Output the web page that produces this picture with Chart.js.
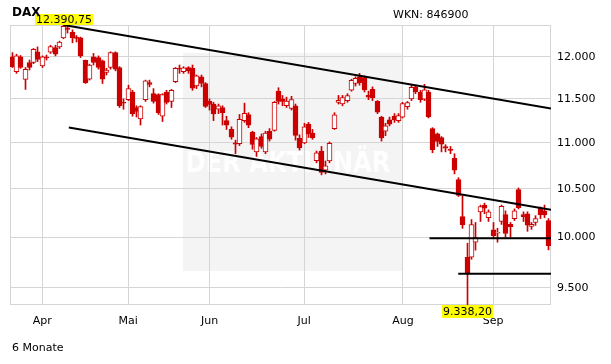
<!DOCTYPE html>
<html>
<head>
<meta charset="utf-8">
<script src="https://cdn.jsdelivr.net/npm/chart.js@4.4.1/dist/chart.umd.min.js"></script>
<style>
    html, body { margin: 0; padding: 0; background: #fff; }
    #wrap { position: relative; width: 611px; height: 364px; font-family: "DejaVu Sans", Verdana, sans-serif; }
    #wrap canvas { position: absolute; left: 0; top: 0; }
    .txt { position: absolute; color: #000; white-space: nowrap; }
</style>
</head>
<body>
<div id="wrap">
    <canvas id="chart" width="611" height="364"></canvas>
    <div class="txt" style="left:12px; top:5px; font-size:12px; font-weight:bold; line-height:14px;">DAX</div>
    <div class="txt" style="left:393px; top:8px; font-size:11px; line-height:13px;">WKN: 846900</div>
    <div class="txt" style="left:12px; top:341px; font-size:11px; line-height:13px;">6 Monate</div>
</div>
<script>
// trading days, 23.03. - 18.09.2015 (MM-DD)
const dates = [
    '03-23','03-24','03-25','03-26','03-27','03-30','03-31',
    '04-01','04-02','04-07','04-08','04-09','04-10','04-13','04-14','04-15','04-16','04-17','04-20','04-21','04-22','04-23','04-24','04-27','04-28','04-29','04-30',
    '05-04','05-05','05-06','05-07','05-08','05-11','05-12','05-13','05-14','05-15','05-18','05-19','05-20','05-21','05-22','05-26','05-27','05-28','05-29',
    '06-01','06-02','06-03','06-04','06-05','06-08','06-09','06-10','06-11','06-12','06-15','06-16','06-17','06-18','06-19','06-22','06-23','06-24','06-25','06-26','06-29','06-30',
    '07-01','07-02','07-03','07-06','07-07','07-08','07-09','07-10','07-13','07-14','07-15','07-16','07-17','07-20','07-21','07-22','07-23','07-24','07-27','07-28','07-29','07-30','07-31',
    '08-03','08-04','08-05','08-06','08-07','08-10','08-11','08-12','08-13','08-14','08-17','08-18','08-19','08-20','08-21','08-24','08-25','08-26','08-27','08-28','08-31',
    '09-01','09-02','09-03','09-04','09-07','09-08','09-09','09-10','09-11','09-14','09-15','09-16','09-17','09-18'
];

const open = [
    12000, 11820, 12000, 11728, 11930, 11930, 12060,
    11890, 11995, 12055, 12110, 12120, 12230, 12355, 12300, 12240, 12230, 11955, 11730, 12000, 11990, 11950, 11810, 11870, 12050, 11870, 11455,
    11490, 11580, 11400, 11270, 11490, 11690, 11560, 11550, 11300, 11580, 11470, 11700, 11860, 11820, 11870, 11860, 11650, 11760, 11680,
    11470, 11440, 11380, 11400, 11250, 11150, 11000, 10990, 11250, 11320, 11120, 10900, 11070, 10900, 11130, 11140, 11590, 11500, 11420, 11390, 11420, 11050,
    11000, 11210, 11110, 10805, 10910, 10700, 10800, 11160, 11460, 11440, 11480, 11600, 11680, 11760, 11750, 11540, 11610, 11470, 11290, 11130, 11260, 11300, 11250,
    11290, 11410, 11500, 11640, 11580, 11495, 11580, 11160, 11100, 11060, 10960, 10930, 10830, 10600, 10210, 9800, 9800, 9950, 10260, 10330, 10200,
    10075, 10040, 10160, 10230, 10130, 10190, 10492, 10230, 10240, 10110, 10150, 10298, 10270, 10170
];
const high = [
    12050, 12030, 12015, 11870, 11960, 12100, 12120,
    12010, 12020, 12140, 12140, 12190, 12390.75, 12385, 12330, 12260, 12240, 11960, 11910, 12040, 12010, 11960, 11860, 12060, 12060, 11880, 11500,
    11660, 11600, 11420, 11420, 11720, 11720, 11620, 11560, 11560, 11600, 11610, 11870, 11900, 11880, 11880, 11900, 11780, 11780, 11690,
    11500, 11460, 11440, 11420, 11300, 11180, 11030, 11320, 11450, 11340, 11130, 11060, 11100, 11130, 11160, 11470, 11630, 11540, 11520, 11530, 11440, 11090,
    11220, 11230, 11150, 10910, 10960, 10800, 11010, 11340, 11540, 11540, 11560, 11730, 11760, 11800, 11770, 11590, 11640, 11480, 11300, 11220, 11290, 11330, 11330,
    11460, 11470, 11670, 11660, 11600, 11670, 11600, 11170, 11110, 11070, 10980, 10960, 10880, 10620, 10430, 9940, 10180, 10150, 10330, 10350, 10280,
    10150, 10090, 10330, 10270, 10150, 10290, 10510, 10260, 10260, 10150, 10220, 10310, 10330, 10190
];
const low = [
    11870, 11800, 11860, 11610, 11840, 11915, 11940,
    11870, 11960, 12040, 12010, 12100, 12220, 12290, 12170, 12180, 11990, 11680, 11720, 11900, 11850, 11680, 11780, 11850, 11830, 11400, 11380,
    11480, 11300, 11290, 11200, 11470, 11640, 11450, 11320, 11240, 11440, 11400, 11690, 11800, 11800, 11800, 11600, 11620, 11640, 11400,
    11370, 11250, 11330, 11200, 11150, 11040, 10880, 10970, 11230, 11170, 10930, 10850, 10940, 10880, 11020, 11130, 11440, 11420, 11400, 11370, 11030, 10920,
    10990, 11060, 11040, 10780, 10650, 10660, 10780, 11150, 11440, 11420, 11460, 11590, 11650, 11660, 11580, 11490, 11480, 11330, 11020, 11080, 11190, 11230, 11230,
    11280, 11380, 11480, 11560, 11460, 11480, 11280, 10890, 10960, 10900, 10900, 10880, 10660, 10420, 10090, 9338.2, 9780, 9870, 10160, 10240, 10160,
    9990, 9950, 10130, 10000, 10000, 10170, 10290, 10160, 10060, 10080, 10120, 10190, 10200, 9873
];
const close = [
    11880, 12010, 11870, 11847, 11870, 12089, 11968,
    12000, 11985, 12125, 12030, 12180, 12375, 12335, 12230, 12225, 12010, 11690, 11900, 11930, 11870, 11730, 11840, 12050, 11850, 11420, 11450,
    11620, 11330, 11355, 11410, 11710, 11670, 11470, 11340, 11550, 11460, 11600, 11860, 11850, 11865, 11830, 11625, 11770, 11680, 11413,
    11436, 11327, 11419, 11340, 11197, 11064, 10985, 11265, 11332, 11197, 10984, 11044, 10960, 11110, 11040, 11460, 11471, 11471, 11473, 11492, 11083, 10945,
    11180, 11099, 11058, 10890, 10676, 10747, 10996, 11315, 11484, 11516, 11539, 11716, 11740, 11690, 11604, 11520, 11512, 11347, 11056, 11190, 11211, 11257, 11308,
    11444, 11456, 11636, 11585, 11490, 11604, 11293, 10924, 11015, 10985, 10940, 10915, 10700, 10432, 10124, 9648, 10128, 9997, 10315, 10298, 10259,
    10016, 10048, 10318, 10038, 10108, 10271, 10303, 10210, 10123, 10131, 10189, 10228, 10229, 9916
];

// drawn lines (x = trading day index)
const upperTrend = [{ x: 12, y: 12390.75 }, { x: 125.5, y: 11389 }];
const lowerTrend = [{ x: 13.2, y: 11171 }, { x: 125.5, y: 10281 }];
const support1 = [{ x: 97.2, y: 9990 }, { x: 125.5, y: 9990 }];
const support2 = [{ x: 103.9, y: 9638 }, { x: 125.5, y: 9638 }];

const yTicks = [9500, 10000, 10500, 11000, 11500, 12000];
const monthNames = { '03': 'Mär', '04': 'Apr', '05': 'Mai', '06': 'Jun', '07': 'Jul', '08': 'Aug', '09': 'Sep' };

const RED = '#cc0000';
const GRID = '#d5d5d5';
const FONT = '"DejaVu Sans", Verdana, sans-serif';

function deNum(v, dec) {
    const parts = v.toFixed(dec).split('.');
    const int = parts[0].replace(/\B(?=(\d{3})+(?!\d))/g, '.');
    return parts[1] ? int + ',' + parts[1] : int;
}

const monthStarts = [];
dates.forEach((d, i) => {
    if (i > 0 && d.slice(0, 2) !== dates[i - 1].slice(0, 2)) monthStarts.push(i);
});

const bodies = dates.map((d, i) => ({ x: i, y: [open[i], close[i]] }));
const wicks = dates.map((d, i) => ({ x: i, y: [low[i], high[i]] }));
const bodyFill = dates.map((d, i) => close[i] >= open[i] ? '#ffffff' : RED);

const yMin = Math.min(...low);
const yMax = Math.max(...high);

const decor = {
    id: 'decor',
    // snap candle centres to the pixel grid so bodies and wicks stay crisp
    afterDatasetsUpdate(chart) {
        chart.getSortedVisibleDatasetMetas().forEach(meta => {
            if (meta.type !== 'bar') return;
            meta.data.forEach(el => { el.x = Math.floor(el.x) + 0.5; });
        });
    },
    beforeDraw(chart) {
        const ctx = chart.ctx;
        ctx.save();
        ctx.fillStyle = '#f4f4f4';
        ctx.fillRect(183, 53, 220, 218);
        ctx.fillStyle = 'rgba(255,255,255,0.85)';
        ctx.font = 'bold 29px ' + FONT;
        ctx.textAlign = 'center';
        ctx.textBaseline = 'alphabetic';
        ctx.fillText('DER AKTIONÄR', 288, 172, 205);
        ctx.restore();
    },
    beforeDatasetsDraw(chart) {
        const { ctx, chartArea: a } = chart;
        ctx.save();
        ctx.strokeStyle = GRID;
        ctx.lineWidth = 1;
        ctx.strokeRect(a.left + 0.5, a.top + 0.5, a.width - 1, a.height - 1);
        ctx.restore();
    },
    afterDatasetsDraw(chart) {
        const ctx = chart.ctx;
        const xs = chart.scales.x, ys = chart.scales.y;
        const iMax = high.indexOf(yMax);
        const iMin = low.indexOf(yMin);
        const tag = (text, cx, yEdge, above) => {
            ctx.font = '11px ' + FONT;
            const w = Math.round(ctx.measureText(text).width) + 2;
            const h = above ? 11 : 13;
            const x0 = Math.round(cx - w / 2);
            const y0 = above ? Math.round(yEdge) - h : Math.round(yEdge);
            ctx.fillStyle = '#ffff00';
            ctx.fillRect(x0, y0, w, h);
            ctx.fillStyle = '#000';
            ctx.textAlign = 'center';
            ctx.textBaseline = 'middle';
            ctx.fillText(text, x0 + w / 2, y0 + h / 2 + 1);
        };
        ctx.save();
        tag(deNum(yMax, 2), xs.getPixelForValue(iMax), ys.getPixelForValue(yMax), true);
        tag(deNum(yMin, 2), xs.getPixelForValue(iMin), ys.getPixelForValue(yMin), false);
        ctx.restore();
    }
};

const lineDs = (data) => ({
    type: 'line',
    data: data,
    borderColor: '#000',
    borderWidth: 2,
    pointRadius: 0,
    fill: false,
    tension: 0
});

new Chart(document.getElementById('chart'), {
    type: 'bar',
    data: {
        datasets: [
            lineDs(upperTrend),
            lineDs(lowerTrend),
            lineDs(support1),
            lineDs(support2),
            {
                label: 'body',
                data: bodies,
                backgroundColor: bodyFill,
                borderColor: RED,
                borderWidth: 1,
                borderSkipped: false,
                barThickness: 5,
                minBarLength: 1,
                grouped: false
            },
            {
                label: 'wick',
                data: wicks,
                backgroundColor: RED,
                borderWidth: 0,
                barThickness: 1,
                grouped: false
            }
        ]
    },
    options: {
        responsive: false,
        animation: false,
        events: [],
        layout: { padding: { left: 10, top: 25, right: 0, bottom: 0 } },
        plugins: {
            legend: { display: false },
            tooltip: { enabled: false }
        },
        scales: {
            x: {
                type: 'linear',
                offset: false,
                min: -0.5,
                max: dates.length - 0.5,
                bounds: 'data',
                afterBuildTicks: (s) => { s.ticks = monthStarts.map(i => ({ value: i })); },
                afterFit: (s) => { s.height = 59; },
                grid: { color: GRID, drawTicks: false, offset: false },
                border: { display: false },
                ticks: {
                    autoSkip: false,
                    maxRotation: 0,
                    padding: 10,
                    color: '#000',
                    font: { family: FONT, size: 11 },
                    callback: (v) => monthNames[dates[v].slice(0, 2)]
                }
            },
            y: {
                type: 'logarithmic',
                position: 'right',
                min: yMin,
                max: yMax,
                bounds: 'data',
                afterBuildTicks: (s) => { s.ticks = yTicks.map(v => ({ value: v })); },
                afterFit: (s) => { s.width = 60; },
                grid: { color: GRID, drawTicks: false },
                border: { display: false },
                ticks: {
                    padding: 6,
                    color: '#000',
                    font: { family: FONT, size: 11 },
                    callback: (v) => deNum(v, 0)
                }
            }
        }
    },
    plugins: [decor]
});
</script>
</body>
</html>
